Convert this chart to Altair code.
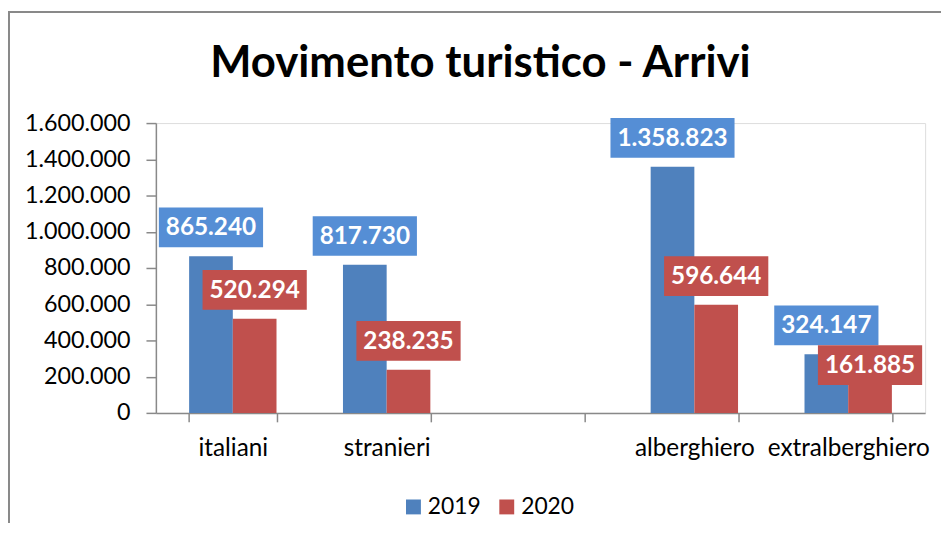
import altair as alt
import pandas as pd

# ---- data ----
categories = ["italiani", "stranieri", "alberghiero", "extralberghiero"]
axis_categories = ["italiani", "stranieri", " ", "alberghiero", "extralberghiero"]
years = ["2019", "2020"]
arrivi_2019 = [865240, 817730, 1358823, 324147]
arrivi_2020 = [520294, 238235, 596644, 161885]
y_ticks = [0, 200000, 400000, 600000, 800000, 1000000, 1200000, 1400000, 1600000]
title_text = "Movimento turistico - Arrivi"

bar_colors = ["#4F81BD", "#C0504D"]
box_colors = ["#558ED5", "#C0504D"]
gray = "#898989"

rows = []
for c, a, b in zip(categories, arrivi_2019, arrivi_2020):
    rows.append({"categoria": c, "anno": years[0], "arrivi": a})
    rows.append({"categoria": c, "anno": years[1], "arrivi": b})
df = pd.DataFrame(rows)

FONT = "Lato"
YMAX = 1600000
PLOT_W, PLOT_H = 775, 292
PX = YMAX / PLOT_H  # data units per pixel

fmt_it = "replace(format(datum.arrivi, ','), regexp(',', 'g'), '.')"

x_enc = alt.X(
    "categoria:N",
    scale=alt.Scale(domain=axis_categories, paddingInner=0.432, paddingOuter=0.216),
    sort=axis_categories,
    title=None,
    axis=alt.Axis(
        tickBand="extent", labelAngle=0, labelFontSize=24.5, labelFont=FONT,
        labelColor="black", tickColor=gray, domainColor=gray, tickSize=9,
        tickWidth=1.5, domainWidth=1.5, labelPadding=15, grid=False,
    ),
)
xoff_enc = alt.XOffset("anno:N", scale=alt.Scale(domain=years, paddingInner=0, paddingOuter=0))
y_scale = alt.Scale(domain=[0, YMAX], nice=False, zero=True)
y_axis = alt.Axis(
    values=y_ticks, grid=False, labelFontSize=23.5, labelFont=FONT,
    labelColor="black", tickColor=gray, domainColor=gray, tickSize=10,
    tickWidth=1.5, domainWidth=1.5, labelPadding=16, labelOverlap=False,
    labelExpr="replace(format(datum.value, ','), regexp(',', 'g'), '.')",
)

bars = alt.Chart(df).mark_bar().encode(
    x=x_enc,
    xOffset=xoff_enc,
    y=alt.Y("arrivi:Q", scale=y_scale, title=None, axis=y_axis),
    color=alt.Color(
        "anno:N",
        scale=alt.Scale(domain=years, range=bar_colors),
        legend=alt.Legend(
            title=None, orient="none", direction="horizontal",
            legendX=248, legendY=375, symbolType="square", symbolSize=225,
            symbolStrokeWidth=0, labelFontSize=23, labelFont=FONT,
            labelColor="black", labelOffset=3, columnPadding=14,
        ),
    ),
)

label_base = (
    alt.Chart(df)
    .transform_calculate(v19="datum.anno == '2019' ? datum.arrivi : 0")
    .transform_joinaggregate(a19="max(v19)", groupby=["categoria"])
    .transform_calculate(
        center=(
            f"datum.anno == '2019' ? datum.arrivi + 29*{PX} : "
            f"min(datum.arrivi + 29*{PX}, datum.a19 - 11*{PX})"
        ),
        label=fmt_it,
    )
    .transform_calculate(
        w="105 + (length(datum.label) - 7) * 10",
        boxfill=f"datum.anno == '2019' ? '{box_colors[0]}' : '{box_colors[1]}'",
    )
    .transform_calculate(
        shape="'M' + (-datum.w/200) + ',-0.2L' + (datum.w/200) + ',-0.2L' + (datum.w/200) + ',0.2L' + (-datum.w/200) + ',0.2Z'"
    )
)

boxes = label_base.mark_point(filled=True, opacity=1, size=40000, strokeWidth=0).encode(
    x=x_enc,
    xOffset=xoff_enc,
    y=alt.Y("center:Q", scale=y_scale, title=None, axis=y_axis),
    shape=alt.Shape("shape:N", scale=None),
    fill=alt.Fill("boxfill:N", scale=None),
)

texts = label_base.mark_text(
    color="white", fontWeight="bold", fontSize=24.5, font=FONT, baseline="middle", dy=1
).encode(
    x=x_enc,
    xOffset=xoff_enc,
    y=alt.Y("center:Q", scale=y_scale, title=None, axis=y_axis),
    text="label:N",
)

frame_df = pd.DataFrame({"k": [0]})
left_border = alt.Chart(frame_df).mark_rule(color=gray, strokeWidth=2).encode(
    x=alt.value(-148), x2=alt.value(-148), y=alt.value(-113), y2=alt.value(420)
)
top_border = alt.Chart(frame_df).mark_rule(color=gray, strokeWidth=2).encode(
    x=alt.value(-149), x2=alt.value(800), y=alt.value(-112), y2=alt.value(-112)
)
title = alt.Chart(pd.DataFrame({"t": [title_text]})).mark_text(
    fontSize=44, fontWeight="bold", font=FONT, color="black",
    align="center", baseline="alphabetic",
).encode(x=alt.value(327), y=alt.value(-46), text="t:N")

chart = (
    alt.layer(bars, boxes, texts, left_border, top_border, title)
    .properties(
        width=PLOT_W,
        height=PLOT_H,
        autosize=alt.AutoSizeParams(type="none"),
        padding={"left": 149, "top": 114, "right": 16, "bottom": 109},
    )
    .configure_view(stroke=None)
    .configure(font=FONT)
)

chart.save("out.html", embed_options={"renderer": "svg", "actions": False})
